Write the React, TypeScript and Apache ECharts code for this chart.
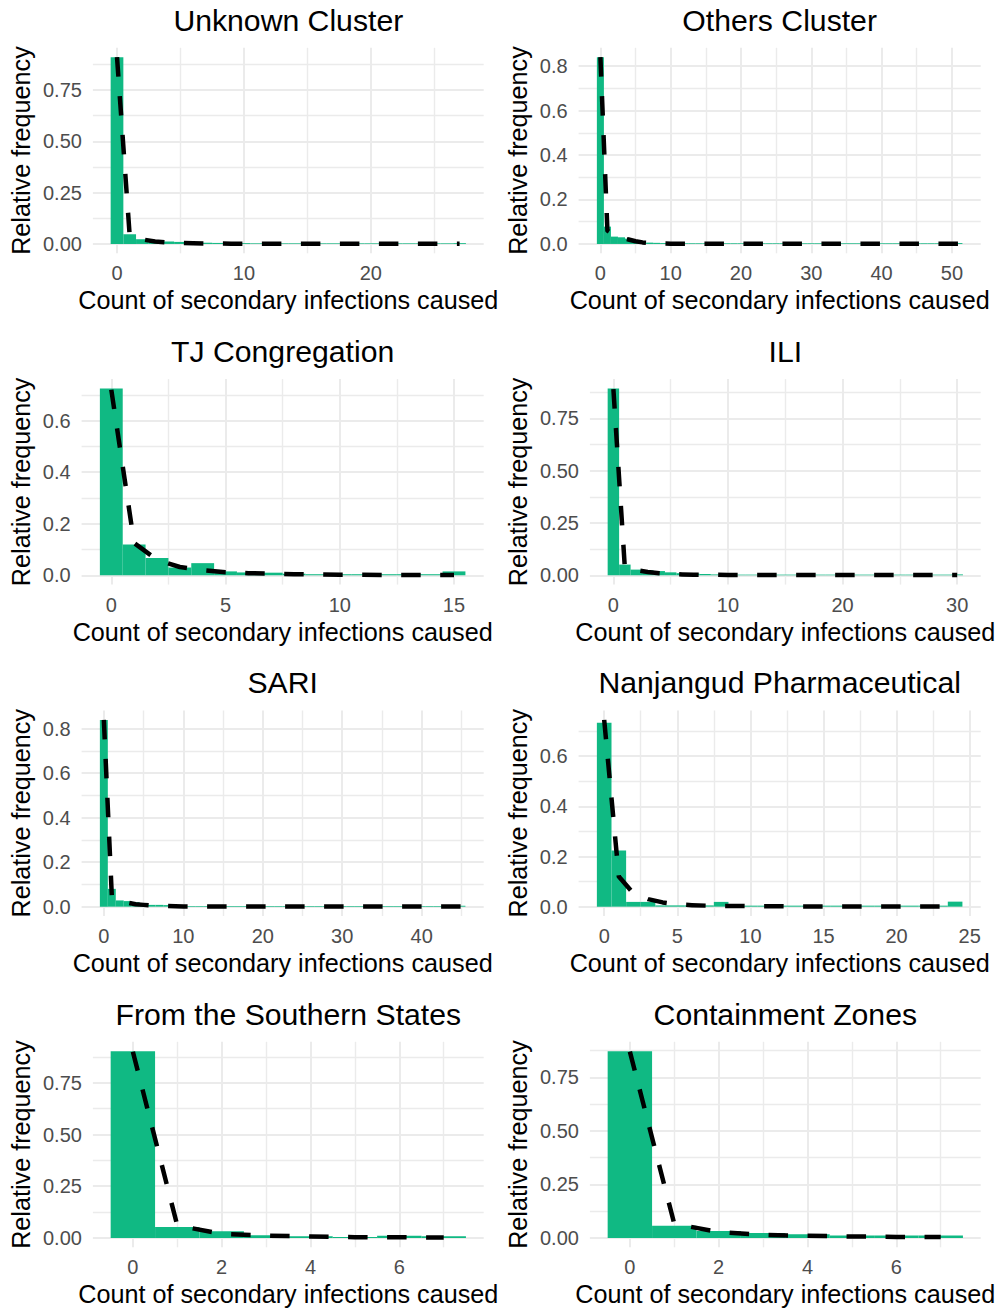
import React, { useEffect, useRef } from "react";
import * as echarts from "echarts";

// ---------- data ----------
const panelTitles = [
  "Unknown Cluster",
  "Others Cluster",
  "TJ Congregation",
  "ILI",
  "SARI",
  "Nanjangud Pharmaceutical",
  "From the Southern States",
  "Containment Zones",
];
const X_TITLE = "Count of secondary infections caused";
const Y_TITLE = "Relative frequency";

// relative frequency per count 0..n-1 (histogram) and fitted curve (dashed)
const unknownBars = [
  0.91, 0.047, 0.023, 0.016, 0.012, 0.01, 0.008, 0.006, 0.005, 0.004, 0.004, 0.003, 0.003, 0.003,
  0.003, 0.003, 0.003, 0.003, 0.003, 0.003, 0.003, 0.003, 0.003, 0.003, 0.003, 0.003, 0.003, 0.004,
];
const unknownFit = [
  0.91, 0.04, 0.022, 0.012, 0.007, 0.005, 0.003, 0.002, 0.002, 0.001, 0.001, 0.001, 0.001, 0.001,
  0.001, 0.001, 0.001, 0.001, 0.001, 0.001, 0.001, 0.001, 0.001, 0.001, 0.001, 0.001, 0.001, 0.001,
];
const unknownXTicks = [0, 10, 20];
const unknownYTicks = [0, 0.25, 0.5, 0.75];

const othersBars = [
  0.84, 0.078, 0.033, 0.03, 0.024, 0.012, 0.008, 0.006, 0.005, 0.004, 0.003, 0.003, 0.003, 0.003,
  0.003, 0.003, 0.003, 0.003, 0.003, 0.003, 0.003, 0.003, 0.003, 0.003, 0.003, 0.003, 0.003, 0.003,
  0.003, 0.003, 0.003, 0.003, 0.003, 0.003, 0.003, 0.003, 0.003, 0.003, 0.003, 0.003, 0.003, 0.003,
  0.003, 0.003, 0.003, 0.003, 0.003, 0.003, 0.003, 0.003, 0.003, 0.004,
];
const othersFit = [
  0.84, 0.06, 0.04, 0.028, 0.02, 0.012, 0.007, 0.004, 0.003, 0.002, 0.001, 0.001, 0.001, 0.001,
  0.001, 0.001, 0.001, 0.001, 0.001, 0.001, 0.001, 0.001, 0.001, 0.001, 0.001, 0.001, 0.001, 0.001,
  0.001, 0.001, 0.001, 0.001, 0.001, 0.001, 0.001, 0.001, 0.001, 0.001, 0.001, 0.001, 0.001, 0.001,
  0.001, 0.001, 0.001, 0.001, 0.001, 0.001, 0.001, 0.001, 0.001, 0.001,
];
const othersXTicks = [0, 10, 20, 30, 40, 50];
const othersYTicks = [0, 0.2, 0.4, 0.6, 0.8];

const tjBars = [
  0.725, 0.119, 0.067, 0.03, 0.047, 0.015, 0.011, 0.01, 0.006, 0.004, 0.004, 0.004, 0.004, 0.004,
  0.004, 0.015,
];
const tjFit = [
  0.72, 0.125, 0.06, 0.032, 0.02, 0.012, 0.008, 0.006, 0.004, 0.003, 0.002, 0.002, 0.001, 0.001,
  0.001, 0.001,
];
const tjXTicks = [0, 5, 10, 15];
const tjYTicks = [0, 0.2, 0.4, 0.6];

const iliBars = [
  0.893, 0.051, 0.027, 0.024, 0.02, 0.014, 0.01, 0.008, 0.006, 0.004, 0.003, 0.003, 0.003, 0.003,
  0.003, 0.003, 0.003, 0.003, 0.003, 0.003, 0.003, 0.003, 0.003, 0.003, 0.003, 0.003, 0.003, 0.003,
  0.003, 0.003, 0.004,
];
const iliFit = [
  0.89, 0.035, 0.024, 0.016, 0.01, 0.006, 0.004, 0.003, 0.002, 0.002, 0.001, 0.001, 0.001, 0.001,
  0.001, 0.001, 0.001, 0.001, 0.001, 0.001, 0.001, 0.001, 0.001, 0.001, 0.001, 0.001, 0.001, 0.001,
  0.001, 0.001, 0.001,
];
const iliXTicks = [0, 10, 20, 30];
const iliYTicks = [0, 0.25, 0.5, 0.75];

const sariBars = [
  0.839, 0.08, 0.028, 0.025, 0.02, 0.012, 0.008, 0.008, 0.007, 0.005, 0.003, 0.003, 0.003, 0.003,
  0.003, 0.003, 0.003, 0.003, 0.003, 0.003, 0.003, 0.003, 0.003, 0.003, 0.003, 0.003, 0.003, 0.003,
  0.003, 0.003, 0.003, 0.003, 0.003, 0.003, 0.003, 0.003, 0.003, 0.003, 0.003, 0.003, 0.003, 0.003,
  0.003, 0.003, 0.003, 0.004,
];
const sariFit = [
  0.84, 0.05, 0.03, 0.018, 0.011, 0.008, 0.005, 0.004, 0.003, 0.002, 0.001, 0.001, 0.001, 0.001,
  0.001, 0.001, 0.001, 0.001, 0.001, 0.001, 0.001, 0.001, 0.001, 0.001, 0.001, 0.001, 0.001, 0.001,
  0.001, 0.001, 0.001, 0.001, 0.001, 0.001, 0.001, 0.001, 0.001, 0.001, 0.001, 0.001, 0.001, 0.001,
  0.001, 0.001, 0.001, 0.001,
];
const sariXTicks = [0, 10, 20, 30, 40];
const sariYTicks = [0, 0.2, 0.4, 0.6, 0.8];

const nanBars = [
  0.733, 0.224, 0.019, 0.019, 0.005, 0.005, 0.005, 0.005, 0.019, 0.004, 0.004, 0.004, 0.004, 0.004,
  0.004, 0.004, 0.004, 0.004, 0.004, 0.004, 0.004, 0.004, 0.004, 0.004, 0.02,
];
const nanFit = [
  0.745, 0.12, 0.053, 0.03, 0.017, 0.009, 0.006, 0.004, 0.003, 0.003, 0.002, 0.002, 0.002, 0.001,
  0.001, 0.001, 0.001, 0.001, 0.001, 0.001, 0.001, 0.001, 0.001, 0.001, 0.001,
];
const nanXTicks = [0, 5, 10, 15, 20, 25];
const nanYTicks = [0, 0.2, 0.4, 0.6];

const southBars = [0.903, 0.053, 0.032, 0.013, 0.008, 0.005, 0.011, 0.008];
const southFit = [0.9, 0.06, 0.02, 0.011, 0.007, 0.004, 0.003, 0.002];
const southXTicks = [0, 2, 4, 6];
const southYTicks = [0, 0.25, 0.5, 0.75];

const contBars = [0.872, 0.057, 0.033, 0.023, 0.017, 0.011, 0.011, 0.011];
const contFit = [0.87, 0.066, 0.028, 0.014, 0.01, 0.007, 0.005, 0.004];
const contXTicks = [0, 2, 4, 6];
const contYTicks = [0, 0.25, 0.5, 0.75];

type Panel = {
  title: string;
  bars: number[];
  fit: number[];
  xTicks: number[];
  yTicks: number[];
  yDec: number;
};

const panels: Panel[] = [
  { title: panelTitles[0], bars: unknownBars, fit: unknownFit, xTicks: unknownXTicks, yTicks: unknownYTicks, yDec: 2 },
  { title: panelTitles[1], bars: othersBars, fit: othersFit, xTicks: othersXTicks, yTicks: othersYTicks, yDec: 1 },
  { title: panelTitles[2], bars: tjBars, fit: tjFit, xTicks: tjXTicks, yTicks: tjYTicks, yDec: 1 },
  { title: panelTitles[3], bars: iliBars, fit: iliFit, xTicks: iliXTicks, yTicks: iliYTicks, yDec: 2 },
  { title: panelTitles[4], bars: sariBars, fit: sariFit, xTicks: sariXTicks, yTicks: sariYTicks, yDec: 1 },
  { title: panelTitles[5], bars: nanBars, fit: nanFit, xTicks: nanXTicks, yTicks: nanYTicks, yDec: 1 },
  { title: panelTitles[6], bars: southBars, fit: southFit, xTicks: southXTicks, yTicks: southYTicks, yDec: 2 },
  { title: panelTitles[7], bars: contBars, fit: contFit, xTicks: contXTicks, yTicks: contYTicks, yDec: 2 },
];

// ---------- style / layout ----------
const FONT = "'Liberation Sans', Arial, Helvetica, sans-serif";
const GREEN = "#10B983";
const GRID_COLOR = "#EBEBEB";
const TICK_COLOR = "#4D4D4D";
const COL_X = [0, 497];
const ROW_Y = [0, 331.3, 662.7, 994];
const PLOT_TOP = 47.8;
const PLOT_H = 205.5;
const PLOT_RIGHT = 483.7;
const PLOT_LEFT_2DEC = 92.9;
const PLOT_LEFT_1DEC = 81.6;

function minorValues(ticks: number[], lo: number, hi: number): number[] {
  const step = ticks[1] - ticks[0];
  const out: number[] = [];
  for (let k = -1; k <= ticks.length + 2; k++) {
    const v = ticks[0] + step * k + step / 2;
    if (v >= lo && v <= hi) out.push(v);
  }
  return out;
}

function buildOption() {
  const grid: any[] = [];
  const xAxis: any[] = [];
  const yAxis: any[] = [];
  const series: any[] = [];
  const graphic: any[] = [];

  panels.forEach((p, i) => {
    const col = i % 2;
    const row = Math.floor(i / 2);
    const left = COL_X[col] + (p.yDec === 2 ? PLOT_LEFT_2DEC : PLOT_LEFT_1DEC);
    const right = COL_X[col] + PLOT_RIGHT;
    const top = ROW_Y[row] + PLOT_TOP;
    const bottom = top + PLOT_H;
    grid.push({ left, top, width: right - left, height: PLOT_H, containLabel: false, outerBoundsMode: "none" });

    const n = p.bars.length;
    const xMin = -0.5 - 0.05 * n;
    const xMax = n - 0.5 + 0.05 * n;
    const yTop = Math.max(...p.bars, ...p.fit);
    const yMin = -0.05 * yTop;
    const yMax = 1.05 * yTop;
    const xMinor = minorValues(p.xTicks, xMin, xMax);
    const yMinor = minorValues(p.yTicks, yMin, yMax);

    xAxis.push({
      type: "value",
      gridIndex: i,
      position: "bottom",
      min: xMin,
      max: xMax,
      axisLine: { show: false },
      axisTick: { show: false, customValues: p.xTicks },
      axisLabel: {
        customValues: p.xTicks,
        margin: 10,
        fontSize: 20,
        color: TICK_COLOR,
        fontFamily: FONT,
        formatter: (v: number) => String(Math.round(v)),
      },
      splitLine: { show: true, lineStyle: { color: GRID_COLOR, width: 2 } },
      minorSplitLine: { show: false },
    });
    xAxis.push({
      type: "value",
      gridIndex: i,
      position: "top",
      min: xMin,
      max: xMax,
      axisLine: { show: false },
      axisTick: { show: false, customValues: xMinor },
      axisLabel: { show: false },
      splitLine: { show: true, lineStyle: { color: GRID_COLOR, width: 1.4 } },
    });
    yAxis.push({
      type: "value",
      gridIndex: i,
      position: "left",
      min: yMin,
      max: yMax,
      axisLine: { show: false },
      axisTick: { show: false, customValues: p.yTicks },
      axisLabel: {
        customValues: p.yTicks,
        margin: 11,
        fontSize: 20,
        color: TICK_COLOR,
        fontFamily: FONT,
        formatter: (v: number) => v.toFixed(p.yDec),
      },
      splitLine: { show: true, lineStyle: { color: GRID_COLOR, width: 2 } },
    });
    yAxis.push({
      type: "value",
      gridIndex: i,
      position: "right",
      min: yMin,
      max: yMax,
      axisLine: { show: false },
      axisTick: { show: false, customValues: yMinor },
      axisLabel: { show: false },
      splitLine: { show: true, lineStyle: { color: GRID_COLOR, width: 1.4 } },
    });

    series.push({
      type: "custom",
      xAxisIndex: 2 * i,
      yAxisIndex: 2 * i,
      silent: true,
      z: 2,
      data: p.bars.map((v, k) => [k, v]),
      renderItem: (_params: any, api: any) => {
        const x = api.value(0);
        const y = api.value(1);
        const p1 = api.coord([x - 0.5, y]);
        const p2 = api.coord([x + 0.5, 0]);
        return {
          type: "rect",
          shape: { x: p1[0], y: p1[1], width: p2[0] - p1[0], height: p2[1] - p1[1] },
          style: { fill: GREEN },
        };
      },
    });
    series.push({
      type: "line",
      xAxisIndex: 2 * i,
      yAxisIndex: 2 * i,
      silent: true,
      z: 3,
      symbol: "none",
      showSymbol: false,
      data: p.fit.map((v, k) => [k, v]),
      lineStyle: { color: "#000000", width: 4.5, type: [19.5, 19.5], cap: "butt", join: "round" },
    });

    const cx = (left + right) / 2;
    const textBase = (text: string, size: number, fill: string) => ({
      text,
      fontSize: size,
      fontFamily: FONT,
      fill,
      align: "center",
      verticalAlign: "middle",
      textAlign: "center",
      textVerticalAlign: "middle",
    });
    graphic.push({ type: "text", x: cx, y: top - 27.8, silent: true, style: textBase(p.title, 30.2, "#000000") });
    graphic.push({ type: "text", x: cx, y: bottom + 47, silent: true, style: textBase(X_TITLE, 25.2, "#000000") });
    graphic.push({
      type: "text",
      x: COL_X[col] + 21,
      y: (top + bottom) / 2,
      rotation: Math.PI / 2,
      silent: true,
      style: textBase(Y_TITLE, 25.2, "#000000"),
    });
  });

  return {
    animation: false,
    backgroundColor: "#ffffff",
    grid,
    xAxis,
    yAxis,
    series,
    graphic: { elements: graphic },
  };
}

export default function App() {
  const ref = useRef<HTMLDivElement>(null);
  useEffect(() => {
    if (!ref.current) return;
    const chart = echarts.init(ref.current, null, { renderer: "svg", width: 998, height: 1310 });
    chart.setOption(buildOption() as any);
    return () => chart.dispose();
  }, []);
  return (
    <div
      ref={ref}
      style={{ position: "absolute", left: 0, top: 0, width: 998, height: 1310, background: "#ffffff", overflow: "hidden" }}
    />
  );
}
